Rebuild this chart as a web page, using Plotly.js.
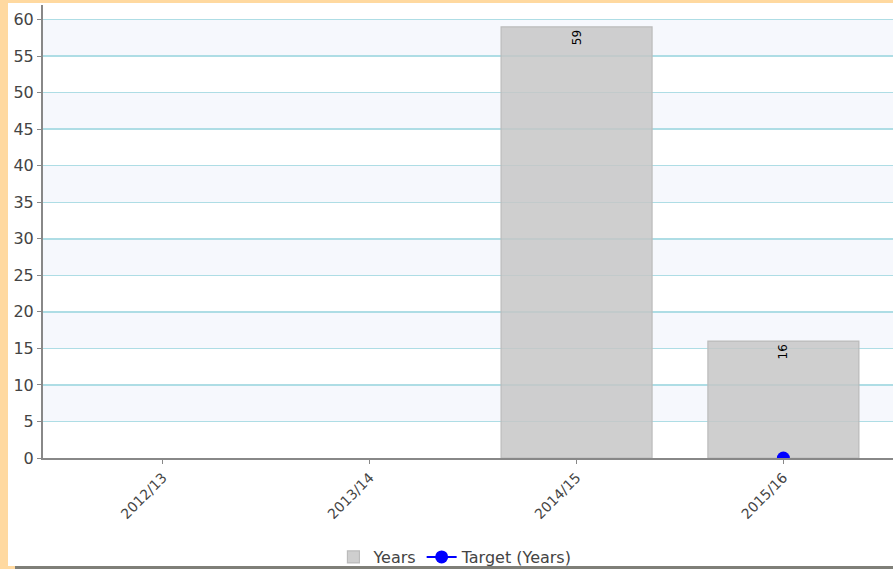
<!DOCTYPE html>
<html>
<head>
<meta charset="utf-8">
<script src="https://cdn.plot.ly/plotly-3.0.1.min.js"></script>
<style>
  html, body { margin: 0; padding: 0; background: #ffffff; }
  #wrap { position: relative; width: 893px; height: 569px; overflow: hidden; }
  #chart { position: absolute; left: 0; top: 0; width: 893px; height: 569px; }
  .edge { position: absolute; background: #FFD9A0; z-index: 5; }
  #bottomline { position: absolute; left: 15px; top: 566px; width: 878px; height: 3px; background: #7f7f78; z-index: 6; }
</style>
</head>
<body>
<div id="wrap">
  <div id="chart"></div>
  <div class="edge" style="left:0;top:0;width:8px;height:569px;"></div>
  <div class="edge" style="left:0;top:0;width:893px;height:3px;"></div>
  <div class="edge" style="left:0;top:566px;width:15px;height:3px;"></div>
  <div id="bottomline"></div>
</div>
<script>
// ---- data ----
const categories = ["2012/13", "2013/14", "2014/15", "2015/16"];
const yearsValues = [null, null, 59, 16];
const targetValues = [null, null, null, 0];

// ---- alternating background bands (styling) ----
const bandShapes = [];
for (let lo = 5; lo < 60; lo += 10) {
  bandShapes.push({
    type: "rect", xref: "paper", yref: "y", x0: 0, x1: 1, y0: lo, y1: lo + 5,
    fillcolor: "#F6F8FD", line: { width: 0 }, layer: "below"
  });
}

const traces = [
  {
    type: "bar",
    name: "Years",
    x: categories,
    y: yearsValues,
    width: 0.73,
    marker: { color: "rgba(198,198,198,0.84)", line: { color: "#bbbbbb", width: 1.2 } },
    texttemplate: "%{y}",
    textposition: "inside",
    insidetextanchor: "end",
    textangle: -90,
    textfont: { family: "DejaVu Sans", size: 12, color: "#000000" },
    constraintext: "none",
    hoverinfo: "x+y"
  },
  {
    type: "scatter",
    mode: "lines+markers",
    name: "Target (Years)",
    x: categories,
    y: targetValues,
    line: { color: "#0000FF", width: 2 },
    marker: { color: "#0000FF", size: 13 },
    cliponaxis: true
  }
];

const layout = {
  width: 893, height: 569,
  margin: { l: 43, r: 0, t: 5, b: 111, pad: 0 },
  paper_bgcolor: "#ffffff",
  plot_bgcolor: "#ffffff",
  font: { family: "DejaVu Sans", color: "#444444" },
  showlegend: true,
  shapes: bandShapes,
  xaxis: {
    type: "category",
    range: [-0.58, 3.53],
    showgrid: false,
    showline: true, linecolor: "#888888", linewidth: 2,
    ticks: "outside", ticklen: 4, tickcolor: "#888888", tickwidth: 1,
    tickangle: -45,
    tickfont: { family: "DejaVu Sans", size: 14, color: "#444444" },
    zeroline: false,
    fixedrange: true
  },
  yaxis: {
    range: [0, 62],
    dtick: 5, tick0: 0,
    showgrid: true, gridcolor: "#AEDDE5", gridwidth: 1.5,
    showline: true, linecolor: "#888888", linewidth: 2,
    ticks: "outside", ticklen: 4, tickcolor: "#888888", tickwidth: 1,
    tickfont: { family: "DejaVu Sans", size: 16, color: "#444444" },
    zeroline: false,
    fixedrange: true
  },
  legend: {
    orientation: "h",
    xref: "container", yref: "container",
    x: 0.51, xanchor: "center",
    y: 0.021, yanchor: "middle",
    font: { family: "DejaVu Sans", size: 16, color: "#444444" },
    bgcolor: "rgba(0,0,0,0)",
    itemwidth: 30,
    tracegroupgap: 0
  },
  bargap: 0.27
};

Plotly.newPlot("chart", traces, layout, { displayModeBar: false, staticPlot: true });
</script>
</body>
</html>
